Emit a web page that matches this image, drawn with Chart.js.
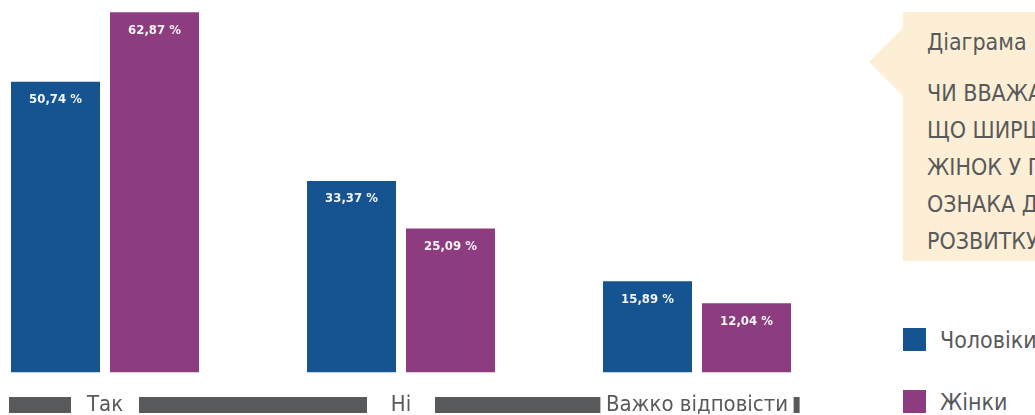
<!DOCTYPE html>
<html lang="uk">
<head>
<meta charset="utf-8">
<script src="https://cdn.jsdelivr.net/npm/chart.js@4.4.1/dist/chart.umd.min.js"></script>
<style>
  html, body { margin: 0; padding: 0; width: 1035px; height: 415px; overflow: hidden; background: #fff; }
  body { position: relative; font-family: 'DejaVu Sans Condensed', 'DejaVu Sans', sans-serif; font-stretch: condensed; color: #58595b; }
  #chartBox { position: absolute; left: -43px; top: 0; width: 888px; height: 418px; }
  .callout { position: absolute; left: 903px; top: 12px; width: 320px; height: 249px; background: #fcefd5; }
  .callout:before {
    content: ''; position: absolute; left: -34px; top: 16px;
    border-top: 34px solid transparent; border-bottom: 34px solid transparent; border-right: 34px solid #fcefd5;
  }
  .callout .num { position: absolute; left: 24px; top: 17px; font-size: 23px; white-space: nowrap; }
  .callout .q { position: absolute; left: 24px; top: 63px; font-size: 23px; line-height: 37px; white-space: nowrap; }
  .legend { position: absolute; left: 903px; top: 328px; }
  .legend .item { display: flex; align-items: center; height: 23px; margin-bottom: 39px; font-size: 23px; white-space: nowrap; }
  .legend .sw { width: 23px; height: 23px; margin-right: 14px; flex: none; }
</style>
</head>
<body>
<div id="chartBox"><canvas id="chart"></canvas></div>
<div class="callout">
  <div class="num">Діаграма 1</div>
  <div class="q">ЧИ ВВАЖАЄТЕ ВИ,<br>ЩО ШИРШЕ ПРЕДСТАВНИЦТВО<br>ЖІНОК У ПОЛІТИЦІ —<br>ОЗНАКА ДЕМОКРАТИЧНОГО<br>РОЗВИТКУ?</div>
</div>
<div class="legend" id="legend"></div>
<script>
// ── Data ─────────────────────────────────────────────
const categories = ['Так', 'Ні', 'Важко відповісти'];
const seriesNames = ['Чоловіки', 'Жінки'];
const menValues = [50.74, 33.37, 15.89];
const womenValues = [62.87, 25.09, 12.04];
const seriesColors = ['#155491', '#8e3c80'];

const STRIP_COLOR = '#58595b';
const FONT_FAMILY = "'DejaVu Sans Condensed', 'DejaVu Sans', sans-serif";
const TICK_FONT = { family: FONT_FAMILY, size: 22 };

// thick grey baseline broken around the category labels
const stripPlugin = {
    id: 'strip',
    beforeDraw(chart) {
        const ctx = chart.ctx;
        const x = chart.scales.x;
        const left = x.getPixelForValue(0) - 96;
        const right = x.getPixelForValue(categories.length - 1) + 98;
        const y = 397;
        ctx.save();
        ctx.font = `${TICK_FONT.size}px ${TICK_FONT.family}`;
        const gaps = categories.map((c, i) => {
            const w = Math.max(ctx.measureText(c).width + 11, 68);
            const cx = x.getPixelForValue(i);
            return [cx - w / 2, cx + w / 2];
        });
        ctx.fillStyle = STRIP_COLOR;
        let start = left;
        gaps.forEach(([a, b]) => {
            if (a > start) ctx.fillRect(start, y, a - start, 16);
            start = b;
        });
        if (right > start) ctx.fillRect(start, y, Math.max(right - start, 6), 16);
        ctx.restore();
    }
};

// white value labels inside the top of each bar
const valueLabels = {
    id: 'valueLabels',
    afterDatasetsDraw(chart) {
        const ctx = chart.ctx;
        ctx.save();
        ctx.font = `bold 13px ${FONT_FAMILY}`;
        ctx.fillStyle = '#f4f4f4';
        ctx.textAlign = 'center';
        ctx.textBaseline = 'middle';
        chart.data.datasets.forEach((ds, di) => {
            chart.getDatasetMeta(di).data.forEach((bar, i) => {
                const txt = ds.data[i].toFixed(2).replace('.', ',') + ' %';
                ctx.fillText(txt, bar.x, bar.y + 18);
            });
        });
        ctx.restore();
    }
};

new Chart(document.getElementById('chart'), {
    type: 'bar',
    data: {
        labels: categories,
        datasets: [
            { label: seriesNames[0], data: menValues, backgroundColor: seriesColors[0] },
            { label: seriesNames[1], data: womenValues, backgroundColor: seriesColors[1] }
        ]
    },
    options: {
        responsive: true,
        maintainAspectRatio: false,
        animation: false,
        categoryPercentage: 0.669,
        barPercentage: 0.899,
        layout: { padding: 0 },
        plugins: { legend: { display: false }, tooltip: { enabled: false } },
        scales: {
            y: { display: false, min: -3.4, max: 65 },
            x: {
                grid: { display: false, drawTicks: false },
                border: { display: false },
                ticks: { color: '#58595b', padding: 0, font: TICK_FONT, maxRotation: 0, autoSkip: false }
            }
        }
    },
    plugins: [stripPlugin, valueLabels]
});

// legend
document.getElementById('legend').innerHTML = seriesNames.map((n, i) =>
    `<div class="item"><span class="sw" style="background:${seriesColors[i]}"></span>${n}</div>`
).join('');
</script>
</body>
</html>
